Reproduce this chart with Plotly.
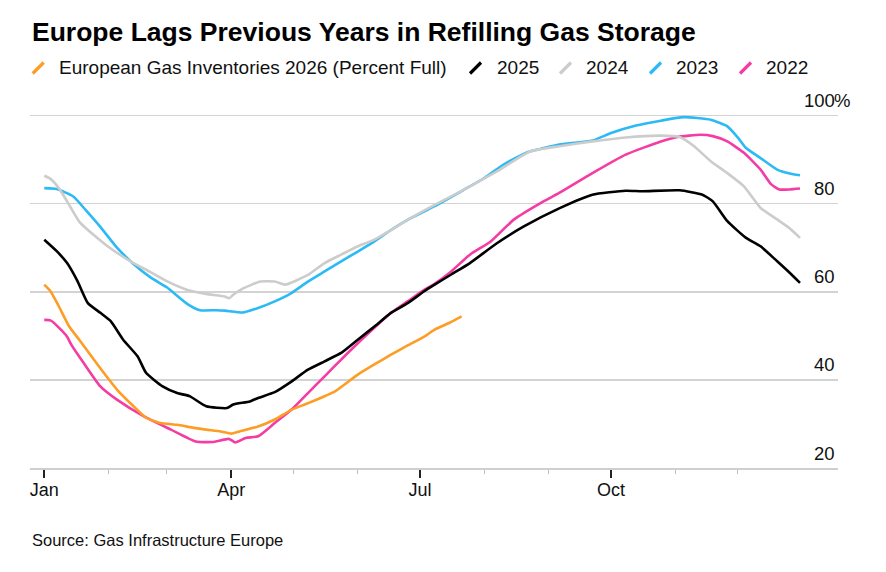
import pandas as pd
import plotly.graph_objects as go

# ---------------- data (day offset from Jan 1, percent full) ----------------
title_text = "Europe Lags Previous Years in Refilling Gas Storage"
source_text = "Source: Gas Infrastructure Europe"
series_names = ["European Gas Inventories 2026 (Percent Full)", "2025", "2024", "2023", "2022"]
base_date = "2026-01-01"

days_2026 = [0, 3, 7, 12, 17, 22, 28, 35, 43, 49, 56, 64, 72, 78, 85, 90, 94, 103, 111, 119,
             127, 140, 151, 159, 167, 175, 183, 188, 195, 201]
vals_2026 = [61.6, 60.1, 56.7, 52.1, 49.0, 45.8, 42.0, 37.8, 34.0, 31.4, 30.2, 29.8, 29.1, 28.7, 28.3, 27.8,
             28.3, 29.4, 31.0, 33.2, 34.7, 37.4, 41.2, 43.5, 45.7, 47.8, 49.8, 51.4, 52.9, 54.4]

days_2025 = [0, 6, 11, 16, 21, 27, 32, 38, 45, 49, 57, 64, 70, 78, 88, 91, 99, 103, 111, 119,
             127, 135, 143, 151, 159, 167, 175, 183, 188, 196, 205, 218, 231, 248, 264, 280, 288, 306,
             317, 322, 329, 338, 345, 353, 359, 364]
vals_2025 = [71.8, 69.2, 66.5, 62.4, 57.4, 55.2, 53.3, 49.1, 45.3, 41.6, 38.5, 37.0, 36.3, 34.0, 33.6, 34.4,
             35.1, 35.9, 37.2, 39.6, 42.3, 44.2, 46.1, 49.1, 52.1, 55.2, 57.4, 60.1, 61.6, 63.9, 66.5, 71.0,
             74.8, 78.9, 82.0, 82.9, 82.8, 83.0, 82.0, 80.5, 76.0, 72.2, 70.3, 66.9, 64.3, 62.0]

days_2024 = [0, 3, 7, 11, 17, 24, 32, 43, 51, 59, 69, 78, 87, 89, 91, 96, 104, 111, 116, 127,
             135, 143, 151, 159, 167, 175, 188, 202, 218, 234, 248, 264, 280, 297, 306, 313, 321, 329,
             337, 345, 353, 359, 364]
vals_2024 = [86.3, 85.6, 83.5, 80.5, 75.8, 72.8, 69.8, 66.5, 64.5, 62.4, 60.4, 59.5, 58.9, 58.5, 59.3, 60.8,
             62.3, 62.3, 61.6, 63.8, 66.5, 68.4, 70.3, 71.8, 74.0, 76.3, 79.7, 83.1, 87.3, 91.8, 93.0, 94.1,
             95.0, 95.4, 95.1, 93.0, 89.6, 86.9, 83.9, 79.0, 76.4, 74.4, 72.2]

days_2023 = [0, 6, 14, 20, 27, 35, 43, 51, 59, 69, 75, 83, 87, 96, 103, 111, 119, 127, 135, 143,
             151, 159, 167, 175, 188, 202, 212, 221, 233, 239, 248, 264, 273, 285, 297, 308, 321, 329,
             334, 338, 345, 353, 359, 364]
vals_2023 = [83.5, 83.3, 81.6, 78.5, 74.7, 70.0, 66.3, 63.3, 61.0, 57.2, 55.8, 55.8, 55.7, 55.3, 56.3, 57.8,
             59.7, 62.3, 64.6, 66.9, 69.1, 71.4, 74.0, 76.3, 79.4, 83.1, 85.8, 88.8, 91.7, 92.4, 93.4, 94.3,
             96.0, 97.7, 98.8, 99.6, 99.0, 97.5, 95.0, 92.6, 90.3, 87.7, 86.8, 86.4]

days_2022 = [0, 3, 8, 11, 13, 19, 27, 35, 48, 61, 73, 81, 89, 92, 97, 103, 111, 119, 127, 135,
             143, 151, 159, 167, 175, 183, 188, 196, 205, 215, 226, 239, 248, 264, 280, 297, 305, 316,
             322, 329, 337, 345, 350, 354, 359, 364]
vals_2022 = [53.6, 53.5, 51.4, 49.8, 48.0, 43.8, 38.5, 35.5, 31.7, 28.7, 26.0, 25.9, 26.6, 25.8, 26.8, 27.2,
             30.2, 33.2, 37.0, 40.8, 44.6, 48.3, 51.8, 55.2, 57.8, 60.4, 61.8, 64.6, 68.4, 71.4, 76.3, 80.1,
             82.4, 86.9, 91.1, 94.1, 95.1, 95.6, 95.3, 94.1, 91.5, 87.7, 84.4, 83.2, 83.2, 83.4]

y_ticks = [20, 40, 60, 80, 100]
major_ticks = ["2026-01-01", "2026-04-01", "2026-07-01", "2026-10-01"]
major_labels = ["Jan", "Apr", "Jul", "Oct"]
minor_ticks = ["2026-02-01", "2026-03-01", "2026-05-01", "2026-06-01",
               "2026-08-01", "2026-09-01", "2026-11-01", "2026-12-01"]

# ---------------- styling ----------------
colors = {"2026": "#fd9d26", "2025": "#000000", "2024": "#cccccc", "2023": "#2cbaf5", "2022": "#f43ca2"}
FONT = "Liberation Sans, Arial, sans-serif"
W, H = 886, 572
L, R, T, B = 30, 838, 109, 468


def to_dates(days):
    return pd.Timestamp(base_date) + pd.to_timedelta(days, unit="D")


def px(xp):
    return (xp - L) / (R - L)


def py(yp):
    return (B - yp) / (B - T)


fig = go.Figure()
# draw order: pink, blue, grey, black, orange on top
for key, d, v in [("2022", days_2022, vals_2022), ("2023", days_2023, vals_2023),
                  ("2024", days_2024, vals_2024), ("2025", days_2025, vals_2025),
                  ("2026", days_2026, vals_2026)]:
    fig.add_trace(go.Scatter(x=to_dates(d), y=v, mode="lines", name=key,
                             line=dict(color=colors[key], width=2.6, shape="spline", smoothing=0.5),
                             showlegend=False, hoverinfo="skip"))

annotations = []
shapes = []

# title
annotations.append(dict(text="<b>" + title_text + "</b>", x=px(30), y=py(32.2), xref="paper", yref="paper",
                        xanchor="left", yanchor="middle", showarrow=False,
                        font=dict(family=FONT, size=26.5, color="#000000")))

# legend (manual, slash icons)
legend_items = [
    (series_names[0], "2026", 31.7, 56.5),
    (series_names[1], "2025", 469, 495),
    (series_names[2], "2024", 559, 584),
    (series_names[3], "2023", 649, 674),
    (series_names[4], "2022", 739, 764),
]
for name, key, ix, tx in legend_items:
    shapes.append(dict(type="line", xref="paper", yref="paper",
                       x0=px(ix + 1), y0=py(73.5), x1=px(ix + 12), y1=py(62.5),
                       line=dict(color=colors[key], width=3.2)))
    annotations.append(dict(text=name, x=px(tx), y=py(67.5), xref="paper", yref="paper",
                            xanchor="left", yanchor="middle", showarrow=False,
                            font=dict(family=FONT, size=19, color="#111111")))

# y tick labels (above gridlines, right aligned, % hanging)
for v in y_ticks:
    annotations.append(dict(text=str(v), x=1, y=v, xref="paper", yref="y", xanchor="right",
                            yanchor="middle", yshift=15, xshift=-1, showarrow=False,
                            font=dict(family=FONT, size=18.5, color="#111111")))
annotations.append(dict(text="%", x=1, y=y_ticks[-1], xref="paper", yref="y", xanchor="left",
                        yanchor="middle", yshift=15, xshift=-6, showarrow=False,
                        font=dict(family=FONT, size=18.5, color="#111111")))

# source
annotations.append(dict(text=source_text, x=px(30), y=py(540), xref="paper", yref="paper",
                        xanchor="left", yanchor="middle", showarrow=False,
                        font=dict(family=FONT, size=16.5, color="#111111")))

fig.update_layout(
    width=W, height=H,
    margin=dict(l=L, r=W - R, t=T, b=H - B, pad=0),
    paper_bgcolor="white", plot_bgcolor="white",
    annotations=annotations, shapes=shapes,
    showlegend=False,
    xaxis=dict(type="date", range=["2025-12-25 03:00", "2027-01-18 07:00"],
               tickmode="array", tickvals=major_ticks, ticktext=major_labels,
               ticks="outside", ticklen=8, tickwidth=1.6, tickcolor="#222222",
               ticklabelstandoff=-3,
               showgrid=False, zeroline=False, fixedrange=True,
               showline=True, linecolor="#cfcfcf", linewidth=1.6,
               tickfont=dict(family=FONT, size=18, color="#111111"),
               minor=dict(tickmode="array", tickvals=minor_ticks, ticks="outside",
                          ticklen=4, tickwidth=1.2, tickcolor="#bdbdbd", showgrid=False)),
    yaxis=dict(range=[20, 101.45], tickmode="array", tickvals=y_ticks,
               showticklabels=False, ticks="", showgrid=True, gridcolor="#d3d3d3", gridwidth=1.6,
               zeroline=False, showline=False, fixedrange=True),
)

fig.write_html("out.html",
               config={"displayModeBar": False, "staticPlot": True},
               post_script="document.body.style.margin='0';document.body.style.padding='0';"
                           "document.documentElement.style.overflow='hidden';")
